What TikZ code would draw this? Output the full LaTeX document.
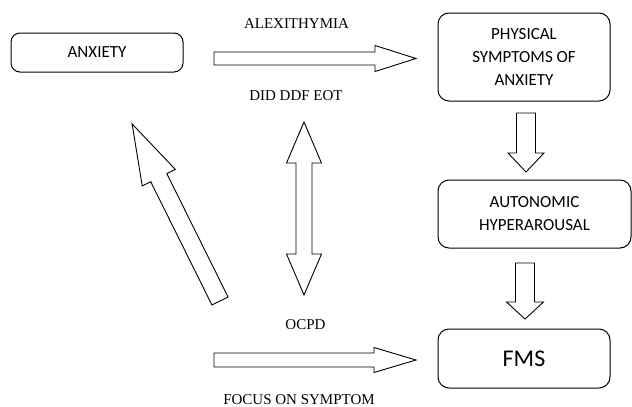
\documentclass[tikz,border=0pt]{standalone}
\usepackage{fontspec}
\setmainfont{Liberation Serif}
\newfontfamily\boxfont{Carlito}
\tikzset{
  box/.style={draw, line width=1pt, rounded corners=9pt, font=\boxfont\fontsize{17}{23}\selectfont, align=center, inner sep=0pt},
  lbl/.style={font=\fontsize{15}{18}\selectfont, anchor=base, inner sep=0pt},
  blk/.style={draw, line width=0.9pt, line join=miter, fill=white}
}
% single block arrow: start x, start y (pixels, y down), angle, length, shaft half width, head half width, head length
\newcommand\barrow[7]{%
  \draw[blk, shift={(#1,-#2)}, rotate=#3]
    (0,-#5) -- (#4-#7,-#5) -- (#4-#7,-#6) -- (#4,0) -- (#4-#7,#6) -- (#4-#7,#5) -- (0,#5) -- cycle;}
% double block arrow
\newcommand\dbarrow[7]{%
  \draw[blk, shift={(#1,-#2)}, rotate=#3]
    (0,0) -- (#7,#6) -- (#7,#5) -- (#4-#7,#5) -- (#4-#7,#6) -- (#4,0)
    -- (#4-#7,-#6) -- (#4-#7,-#5) -- (#7,-#5) -- (#7,-#6) -- cycle;}
\begin{document}
\begin{tikzpicture}[x=1pt,y=1pt]
\useasboundingbox (0,0) rectangle (632,-407);
% boxes
\node[box, minimum width=172pt, minimum height=39pt] (anx) at (97,-52.5) {ANXIETY};
\node[box, minimum width=172pt, minimum height=88pt, rounded corners=11pt] (phys) at (524,-57) {PHYSICAL\\SYMPTOMS OF\\ANXIETY};
\node[box, minimum width=193pt, minimum height=68pt, rounded corners=11pt] (auto) at (534.5,-214) {AUTONOMIC\\HYPERAROUSAL};
\node[box, minimum width=172pt, minimum height=59pt, rounded corners=11pt, font=\boxfont\fontsize{24}{28}\selectfont] (fms) at (524,-358.5) {FMS};
% labels
\node[lbl] (alex) at (296.5,-28.8) {ALEXITHYMIA};
\node[lbl] (did) at (296,-100.8) {DID DDF EOT};
\node[lbl] (ocpd) at (305.5,-329) {OCPD};
\node[lbl] (focus) at (299,-404.8) {FOCUS ON SYMPTOM};
% block arrows
\barrow{214}{58.5}{0}{202}{6.5}{13}{41}
\barrow{214}{360}{0}{202}{7}{12.5}{42}
\barrow{526}{113}{-90}{59}{9.5}{18}{19}
\barrow{525}{263}{-90}{56}{9.5}{18.5}{17}
\barrow{220}{301}{116.4}{197.7}{9}{18.5}{60}
\dbarrow{304}{122}{-90}{173}{8}{17.5}{41}
\end{tikzpicture}
\end{document}
